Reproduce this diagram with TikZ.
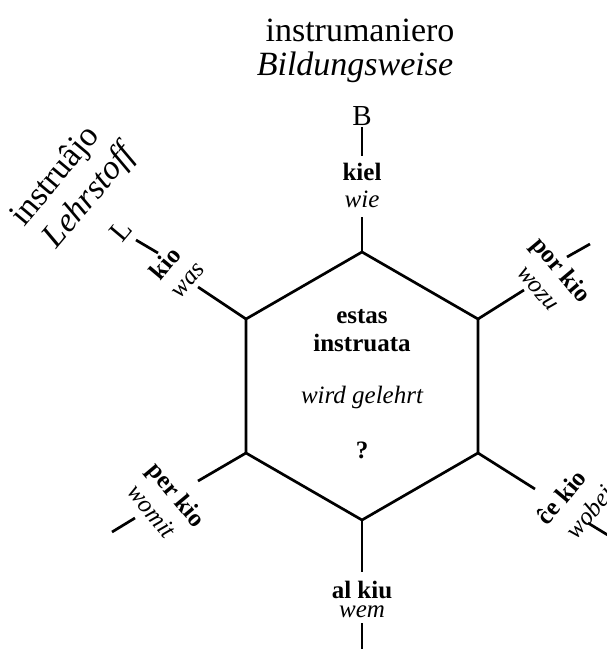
\documentclass[tikz,border=0pt]{standalone}
\usepackage{fontspec}
\setmainfont{Liberation Serif}
\begin{document}
\begin{tikzpicture}[x=1pt,y=-1pt,
  edge/.style={line width=2.7pt,line cap=butt},
  lab/.style={font=\fontsize{25}{28}\selectfont\bfseries, inner sep=0pt},
  ilab/.style={font=\fontsize{25}{28}\selectfont\itshape, inner sep=0pt},
  letter/.style={font=\fontsize{29}{32}\selectfont, inner sep=0pt},
  ttl/.style={font=\fontsize{34}{38}\selectfont, inner sep=0pt},
  ittl/.style={font=\fontsize{34}{38}\selectfont\itshape, inner sep=0pt},
  ctr/.style={font=\fontsize{25}{28}\selectfont\bfseries, inner sep=0pt, align=center}]
\useasboundingbox (0,0) rectangle (607,649);
% hexagon vertices
\coordinate (vT) at (362,252);
\coordinate (vUR) at (478,319);
\coordinate (vLR) at (478,453);
\coordinate (vB) at (362,520);
\coordinate (vLL) at (246,453);
\coordinate (vUL) at (246,319);
\draw[edge,line join=miter] (vT) -- (vUR) -- (vLR) -- (vB) -- (vLL) -- (vUL) -- cycle;
% spoke ends
\coordinate (sT) at (362,217);
\coordinate (sB) at (362,572);
\coordinate (sUL) at (198,287);
\coordinate (sUR) at (524,290);
\coordinate (sLL) at (198,481);
\coordinate (sLR) at (535,489);
\draw[edge] (vT) -- (sT);
\draw[edge] (vB) -- (sB);
\draw[edge] (vUL) -- (sUL);
\draw[edge] (vUR) -- (sUR);
\draw[edge] (vLL) -- (sLL);
\draw[edge] (vLR) -- (sLR);
% ticks
\coordinate (tT1) at (362,127); \coordinate (tT2) at (362,156);
\coordinate (tB1) at (362,623); \coordinate (tB2) at (362,650);
\coordinate (tUL1) at (136,240); \coordinate (tUL2) at (158,253);
\coordinate (tUR1) at (567,257); \coordinate (tUR2) at (590,244);
\coordinate (tLL1) at (112,532); \coordinate (tLL2) at (135,518);
\coordinate (tLR1) at (588,523); \coordinate (tLR2) at (611,537);
\draw[edge] (tT1) -- (tT2);
\draw[edge] (tB1) -- (tB2);
\draw[edge] (tUL1) -- (tUL2);
\draw[edge] (tUR1) -- (tUR2);
\draw[edge] (tLL1) -- (tLL2);
\draw[edge] (tLR1) -- (tLR2);
% centre
\node[ctr] (c1) at (362,331) {estas\\instruata};
\node[ilab] (c2) at (362,397) {wird gelehrt};
\node[lab] (c3) at (362,450) {?};
% top
\node[lab] (kiel) at (362,171.5) {kiel};
\node[ilab] (wie) at (362,199.5) {wie};
\node[letter] (B) at (362,116) {B};
\node[ttl] (t1) at (360,30) {instrumaniero};
\node[ittl] (t2) at (355,67) {Bildungsweise};
% bottom
\node[lab] (alkiu) at (362,589.5) {al kiu};
\node[ilab] (wem) at (362,612) {wem};
% upper left
\node[lab,rotate=50] (kio) at (165,263) {kio};
\node[ilab,rotate=50] (was) at (189,281) {was};
\node[letter,rotate=50] (L) at (121,231) {L};
\node[ttl,rotate=50] (t3) at (56,177) {instruâjo};
\node[ittl,rotate=50] (t4) at (90,197) {Lehrstoff};
% upper right
\node[lab,rotate=-50] (porkio) at (560,271) {por kio};
\node[ilab,rotate=-50] (wozu) at (537,289) {wozu};
% lower left
\node[lab,rotate=-50] (perkio) at (175,496) {per kio};
\node[ilab,rotate=-50] (womit) at (152,511) {womit};
% lower right
\node[lab,rotate=50] (cekio) at (561,497) {ĉe kio};
\node[ilab,rotate=50] (wobei) at (589,512) {wobei};
\end{tikzpicture}
\end{document}
